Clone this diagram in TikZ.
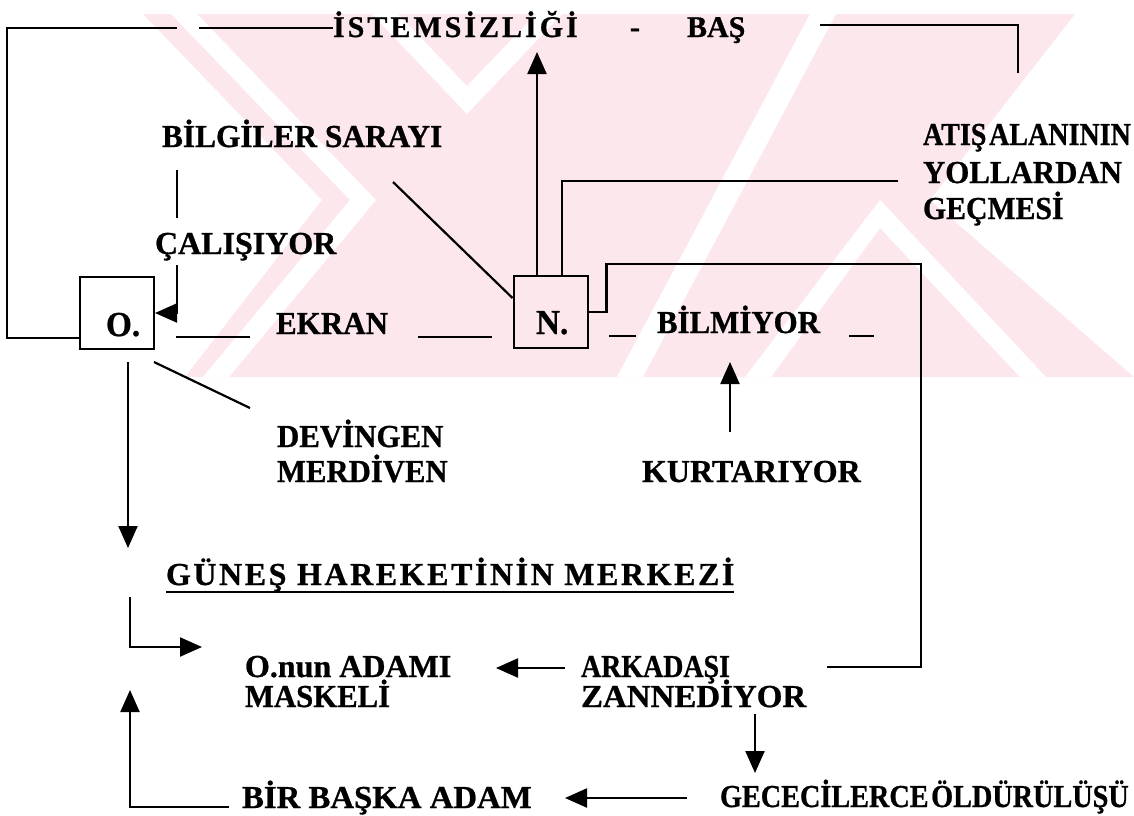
\documentclass[tikz,border=0pt]{standalone}
\usepackage{fontspec}
\setmainfont{Liberation Serif}[BoldFeatures={FakeBold=0.8}]
\usetikzlibrary{arrows.meta}
\definecolor{wmpink}{RGB}{252,231,236}
\newcommand{\hstretch}[2]{\scalebox{#1}[1]{#2}}
\tikzset{
  lbl/.style={inner sep=0pt, outer sep=0pt, anchor=base west, font=\fontsize{32}{35}\selectfont\bfseries},
  toplbl/.style={lbl, font=\fontsize{30}{33}\selectfont\bfseries},
  boxlbl/.style={lbl, font=\fontsize{35}{38}\selectfont\bfseries},
  conn/.style={line width=2.2pt},
  arr/.style={conn, -{Triangle[length=22pt,width=19pt]}},
  tagbox/.style={draw, line width=2pt, minimum width=74pt, minimum height=72pt, inner sep=0pt},
}
\begin{document}
\begin{tikzpicture}[x=1pt,y=-1pt]
\useasboundingbox (0,0) rectangle (1134,815);

% pale background emblem
\fill[wmpink] (143,14) -- (1075,14) -- (930,200) -- (1134,377) -- (185,377) -- (322,200) -- cycle;
\fill[white] (171,14) -- (197,14) -- (376,200) -- (229,377) -- (203,377) -- (350,200) -- cycle;
\fill[white] (372,14) -- (398,14) -- (467,86) -- (536,14) -- (562,14) -- (467,114) -- cycle;
\fill[white] (810,14) -- (836,14) -- (643,377) -- (617,377) -- cycle;
\fill[white] (880,200) -- (1046,377) -- (1020,377) -- (880,228) -- (771,377) -- (745,377) -- cycle;

% the two boxes
\node[tagbox] (O) at (117,313) {};
\node[tagbox] (N) at (550.5,312) {};
\node[boxlbl] (Ot) at (106,336) {\hstretch{0.95}{O.}};
\node[boxlbl] (Nt) at (536,334) {\hstretch{0.95}{N.}};

% labels
\node[toplbl] (ist) at (333,37) {\addfontfeatures{LetterSpace=10}İSTEMSİZLİĞİ};
\node[toplbl] (dash) at (630,37) {-};
\node[toplbl] (bas) at (687,37) {BAŞ};
\node[lbl] (bs) at (162,147) {\hstretch{0.98}{BİLGİLER SARAYI}};
\node[lbl] (cal) at (155,254) {ÇALIŞIYOR};
\node[lbl] (ekran) at (276,334) {\hstretch{0.97}{EKRAN}};
\node[lbl] (bilm) at (657,333) {\hstretch{0.965}{BİLMİYOR}};
\node[lbl] (at1) at (923,145) {\hstretch{0.877}{ATIŞ\hspace{3pt}ALANININ}};
\node[lbl] (at2) at (923,183) {\hstretch{0.965}{YOLLARDAN}};
\node[lbl] (at3) at (923,219) {\hstretch{0.93}{GEÇMESİ}};
\node[lbl] (dev1) at (277,447) {\hstretch{0.965}{DEVİNGEN}};
\node[lbl] (dev2) at (277,482) {\hstretch{0.96}{MERDİVEN}};
\node[lbl] (kurt) at (642,482) {KURTARIYOR};
\node[lbl] (gunes) at (166,585) {\addfontfeatures{LetterSpace=8}GÜNEŞ HAREKETİNİN MERKEZİ};
\node[lbl] (onun1) at (245,677) {O.nun ADAMI};
\node[lbl] (onun2) at (245,707) {\hstretch{0.96}{MASKELİ}};
\node[lbl] (ark1) at (581,677) {\hstretch{0.873}{ARKADAŞI}};
\node[lbl] (ark2) at (581,707) {\hstretch{1.03}{ZANNEDİYOR}};
\node[lbl] (gec) at (720,807) {\hstretch{0.882}{GECECİLERCE\hspace{3pt}ÖLDÜRÜLÜŞÜ}};
\node[lbl] (bir) at (242,808) {\hstretch{1.025}{BİR BAŞKA ADAM}};

% underline of the title
\draw[line width=2pt] ([yshift=-7pt]gunes.base west) -- ([yshift=-7pt]gunes.base east);

% free ends and bends
\coordinate (tlcorner) at (7,28);
\coordinate (tlgapL) at (177,28);
\coordinate (tlgapR) at (199,28);
\coordinate (trA) at (820,25);
\coordinate (trB) at (1018,73);
\coordinate (upTip) at (537,52);
\coordinate (atisEnd) at (898,181);
\coordinate (rtCorner) at (921,264);
\coordinate (zanEnd) at (827,667);
\coordinate (bsEnd) at (393,182);
\coordinate (ca1) at (177,170);
\coordinate (ca2) at (177,218);
\coordinate (ca3) at (177,265);
\coordinate (ekL1) at (176,337);
\coordinate (ekL2) at (250,337);
\coordinate (ekR1) at (418,337);
\coordinate (ekR2) at (492,337);
\coordinate (biL1) at (609,336);
\coordinate (biL2) at (636,336);
\coordinate (biR1) at (849,336);
\coordinate (biR2) at (874,336);
\coordinate (od1) at (128,362);
\coordinate (od2) at (128,548);
\coordinate (dv1) at (154,362);
\coordinate (dv2) at (250,408);
\coordinate (ku1) at (730,432);
\coordinate (ku2) at (730,362);
\coordinate (gn1) at (130,597);
\coordinate (gn2) at (202,647);
\coordinate (ar1) at (565,668);
\coordinate (ar2) at (496,668);
\coordinate (zn1) at (755,714);
\coordinate (zn2) at (755,773);
\coordinate (gc1) at (687,798);
\coordinate (gc2) at (565,798);
\coordinate (bb1) at (229,807);
\coordinate (bb2) at (130,690);

% connectors
\draw[conn] ([yshift=-25pt]O.west) -| (tlcorner) -- (tlgapL);
\draw[conn] (tlgapR) -- (ist.west |- tlgapR);
\draw[conn] (trA) -| (trB);
\draw[arr] (N.north -| upTip) -- (upTip);
\draw[conn] ([xshift=11.5pt]N.north) |- (atisEnd);
\draw[conn] (N.east) -- ++(18,0) |- (rtCorner) |- (zanEnd);
\draw[conn] (bsEnd) -- ([yshift=14pt]N.west);
\draw[conn] (ca1) -- (ca2);
\draw[arr] (ca3) |- (O.east);
\draw[conn] (ekL1) -- (ekL2);
\draw[conn] (ekR1) -- (ekR2);
\draw[conn] (biL1) -- (biL2);
\draw[conn] (biR1) -- (biR2);
\draw[arr] (od1) -- (od2);
\draw[conn] (dv1) -- (dv2);
\draw[arr] (ku1) -- (ku2);
\draw[arr] (gn1) |- (gn2);
\draw[arr] (ar1) -- (ar2);
\draw[arr] (zn1) -- (zn2);
\draw[arr] (gc1) -- (gc2);
\draw[arr] (bb1) -| (bb2);
\end{tikzpicture}
\end{document}
